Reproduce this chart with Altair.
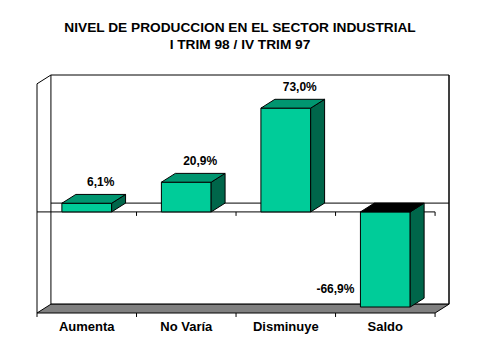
import altair as alt
import pandas as pd

categories = ["Aumenta", "No Varía", "Disminuye", "Saldo"]
values = [6.1, 20.9, 73.0, -66.9]
labels = ["6,1%", "20,9%", "73,0%", "-66,9%"]

Y_MIN, Y_MAX = -71.1, 96.3
DX, DY = 0.14, 6.2
HALF = 0.25
TICK = 2.8
FONT = "Liberation Sans"

X_MAX = len(categories) + DX
xs = alt.Scale(domain=[0, X_MAX], nice=False, zero=False)
ys = alt.Scale(domain=[Y_MIN, Y_MAX], nice=False, zero=False)

front_rows, side_rows, top_rows, lab_rows = [], [], [], []
for i, (c, v, l) in enumerate(zip(categories, values, labels)):
    cx = i + 0.5
    lo, hi = min(0, v), max(0, v)
    front_rows.append({"cat": c, "x": cx - HALF, "x2": cx + HALF, "y": lo, "y2": hi})
    side_rows.append({"cat": c, "x": cx + HALF, "ylo": lo, "yhi": hi})
    side_rows.append({"cat": c, "x": cx + HALF + DX, "ylo": lo + DY, "yhi": hi + DY})
    tc = "#009670" if v >= 0 else "#000000"
    top_rows.append({"cat": c, "y": hi, "x": cx - HALF, "x2": cx + HALF, "col": tc})
    top_rows.append({"cat": c, "y": hi + DY, "x": cx - HALF + DX, "x2": cx + HALF + DX, "col": tc})
    if v >= 0:
        lab_rows.append({"t": l, "x": cx + DX, "y": v + DY, "align": "center"})
    else:
        lab_rows.append({"t": l, "x": cx - HALF - 0.06, "y": v + 2 * DY, "align": "right"})

front = pd.DataFrame(front_rows)
side = pd.DataFrame(side_rows)
top = pd.DataFrame(top_rows)
labs = pd.DataFrame(lab_rows)
cats = pd.DataFrame({"cat": categories, "x": [i + 0.5 for i in range(len(categories))], "y": [Y_MIN] * len(categories)})

n = len(categories)
wall = pd.DataFrame({"x": [DX], "x2": [n + DX], "y": [Y_MIN + DY], "y2": [Y_MAX]})
floor = pd.DataFrame({"y": [Y_MIN, Y_MIN + DY], "x": [0, DX], "x2": [n, n + DX]})
ticks = pd.DataFrame({"x": list(range(1, n + 1))})

wall_l = alt.Chart(wall).mark_rect(fill="white", stroke="black", strokeWidth=1).encode(
    x=alt.X("x:Q", scale=xs, axis=None), x2="x2", y=alt.Y("y:Q", scale=ys, axis=None), y2="y2")
back_zero = alt.Chart(wall).mark_rule(color="black").encode(
    x=alt.X("x:Q", scale=xs), x2="x2", y=alt.datum(DY, scale=ys))
floor_l = alt.Chart(floor).mark_area(orient="horizontal", fill="#808080", stroke="black", strokeWidth=1).encode(
    y=alt.Y("y:Q", scale=ys), x=alt.X("x:Q", scale=xs), x2="x2")
left_v = alt.Chart(wall).mark_rule(color="black").encode(
    x=alt.datum(0, scale=xs), y=alt.datum(Y_MIN - TICK, scale=ys), y2=alt.datum(Y_MAX - DY))
left_d = alt.Chart(wall).mark_rule(color="black").encode(
    x=alt.datum(0, scale=xs), x2=alt.datum(DX), y=alt.datum(Y_MAX - DY, scale=ys), y2=alt.datum(Y_MAX))
right_v = alt.Chart(wall).mark_rule(color="black").encode(
    x=alt.datum(n + DX, scale=xs), y=alt.datum(Y_MIN + DY, scale=ys), y2=alt.datum(Y_MAX))
front_zero = alt.Chart(wall).mark_rule(color="black").encode(
    x=alt.datum(0, scale=xs), x2=alt.datum(n), y=alt.datum(0, scale=ys))
zero_ticks = alt.Chart(ticks).mark_rule(color="black").encode(
    x=alt.X("x:Q", scale=xs), y=alt.datum(0, scale=ys), y2=alt.datum(-TICK))
floor_ticks = alt.Chart(ticks).mark_rule(color="black").encode(
    x=alt.X("x:Q", scale=xs), y=alt.datum(Y_MIN, scale=ys), y2=alt.datum(Y_MIN - TICK))

front_l = alt.Chart(front).mark_rect(fill="#00CC99", stroke="black", strokeWidth=1).encode(
    x=alt.X("x:Q", scale=xs), x2="x2", y=alt.Y("y:Q", scale=ys), y2="y2")
side_l = alt.Chart(side).mark_area(fill="#00664A", stroke="black", strokeWidth=1).encode(
    x=alt.X("x:Q", scale=xs), y=alt.Y("ylo:Q", scale=ys), y2="yhi", detail="cat:N")
top_l = alt.Chart(top).mark_area(orient="horizontal", stroke="black", strokeWidth=1).encode(
    y=alt.Y("y:Q", scale=ys), x=alt.X("x:Q", scale=xs), x2="x2", detail="cat:N",
    fill=alt.Fill("col:N", scale=None))

lab_c = alt.Chart(labs[labs["align"] == "center"]).mark_text(
    font=FONT, fontSize=12, fontWeight="bold", color="black", align="center", baseline="middle", dy=-12).encode(
    x=alt.X("x:Q", scale=xs), y=alt.Y("y:Q", scale=ys), text="t:N")
lab_r = alt.Chart(labs[labs["align"] == "right"]).mark_text(
    font=FONT, fontSize=12, fontWeight="bold", color="black", align="right", baseline="middle").encode(
    x=alt.X("x:Q", scale=xs), y=alt.Y("y:Q", scale=ys), text="t:N")
cat_l = alt.Chart(cats).mark_text(
    font=FONT, fontSize=13, fontWeight="bold", color="black", align="center", baseline="middle", dy=14).encode(
    x=alt.X("x:Q", scale=xs), y=alt.Y("y:Q", scale=ys), text="cat:N")

chart = alt.layer(
    wall_l, back_zero, floor_l, left_v, left_d, right_v, front_zero, zero_ticks, floor_ticks,
    front_l, side_l, top_l, lab_c, lab_r, cat_l
).properties(
    width=412, height=238,
    title=alt.TitleParams(
        text=["NIVEL DE PRODUCCION EN EL SECTOR INDUSTRIAL", "I TRIM 98 / IV TRIM 97"],
        font=FONT, fontSize=13.7, fontWeight="bold", color="black", anchor="middle",
        lineHeight=17, offset=23, dx=-3),
    autosize=alt.AutoSizeParams(type="none"),
    padding={"left": 29, "top": 67, "right": 20, "bottom": 30},
).configure_view(stroke=None)

chart.save("out.html", embed_options={"renderer": "svg", "actions": False})
